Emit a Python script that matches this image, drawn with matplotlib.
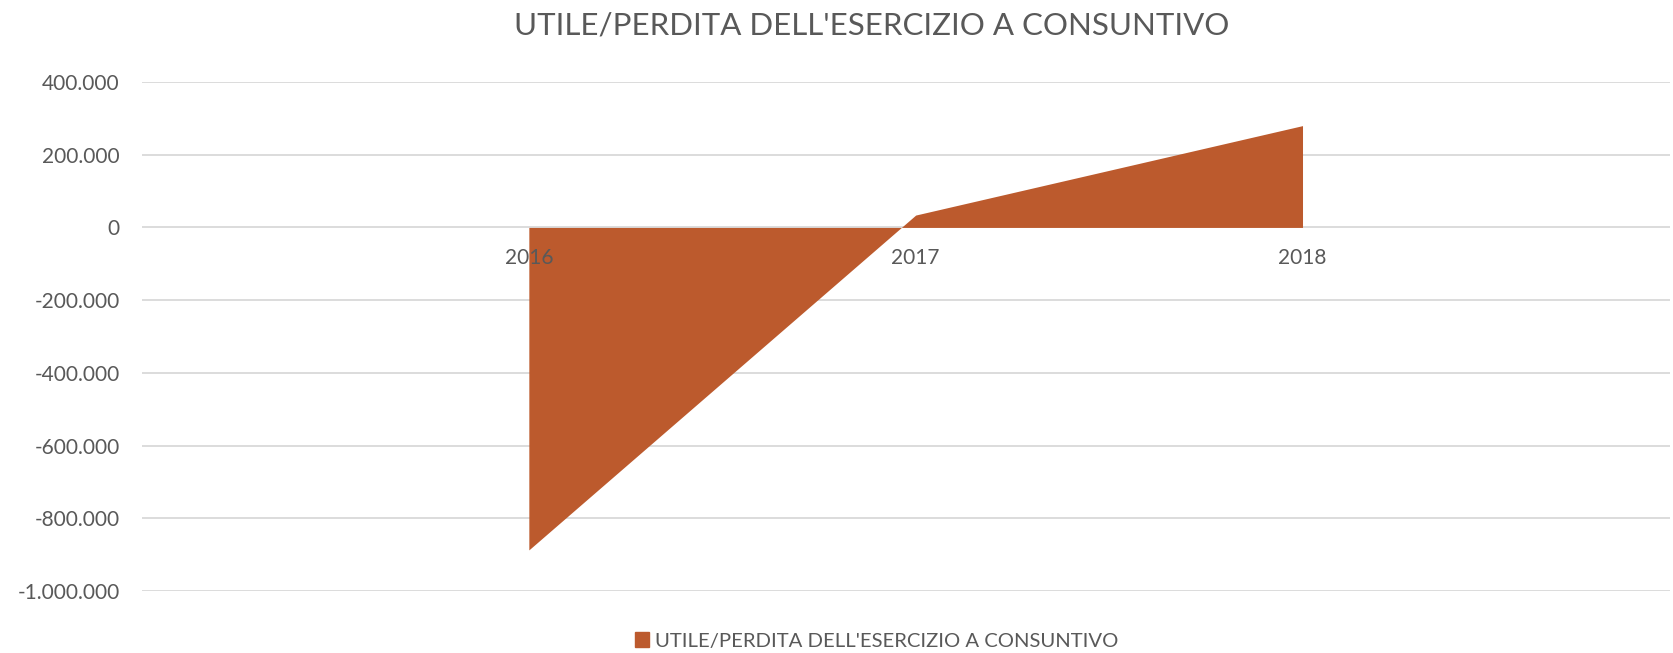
import matplotlib.pyplot as plt
from matplotlib.patches import Patch
from matplotlib.ticker import FuncFormatter

years = ['2016', '2017', '2018']
utile = [-887000, 34000, 280000]
y_ticks = [400000, 200000, 0, -200000, -400000, -600000, -800000, -1000000]

titolo = "UTILE/PERDITA DELL'ESERCIZIO A CONSUNTIVO"
arancio = '#BC5A2D'
grigio = '#595959'

plt.rcParams['font.family'] = ['Lato', 'DejaVu Sans']


def migliaia(v, pos):
    """Formato italiano con il punto come separatore delle migliaia"""
    s = f'{abs(int(round(v))):,}'.replace(',', '.')
    return '-' + s if v < 0 else s


fig = plt.figure(figsize=(16.73, 6.53), dpi=100)
ax = fig.add_axes([142 / 1673, 1 - 591 / 653, (1670 - 142) / 1673, (591 - 82) / 653])

x = list(range(len(years)))
ax.fill_between(x, utile, 0, color=arancio, linewidth=0, zorder=2)

ax.set_ylim(-1000000, 400000)
ax.set_xlim(-1.0, 2.95)
ax.set_yticks(y_ticks)
ax.yaxis.set_major_formatter(FuncFormatter(migliaia))
ax.grid(axis='y', color='#D9D9D9', linewidth=1.3, zorder=1)
ax.set_xticks([])
ax.tick_params(axis='y', length=0, pad=16, labelsize=15, labelcolor=grigio)
for s in ax.spines.values():
    s.set_visible(False)

# etichette delle categorie sotto la linea dello zero
for i, y in enumerate(years):
    ax.annotate(y, (i, 0), xytext=(0, -22), textcoords='offset points',
                ha='center', va='center', fontsize=15, color=grigio, zorder=3)

fig.text(872 / 1673, 1 - 26 / 653, titolo, ha='center', va='center',
         fontsize=22.5, color=grigio)

fig.legend(handles=[Patch(color=arancio, label=titolo)], loc='center',
           bbox_to_anchor=(877 / 1673, 1 - 641 / 653), frameon=False,
           handlelength=0.7, handleheight=0.7, handletextpad=0.3,
           fontsize=14.6, labelcolor=grigio)

fig.savefig('out.png', dpi=100)
